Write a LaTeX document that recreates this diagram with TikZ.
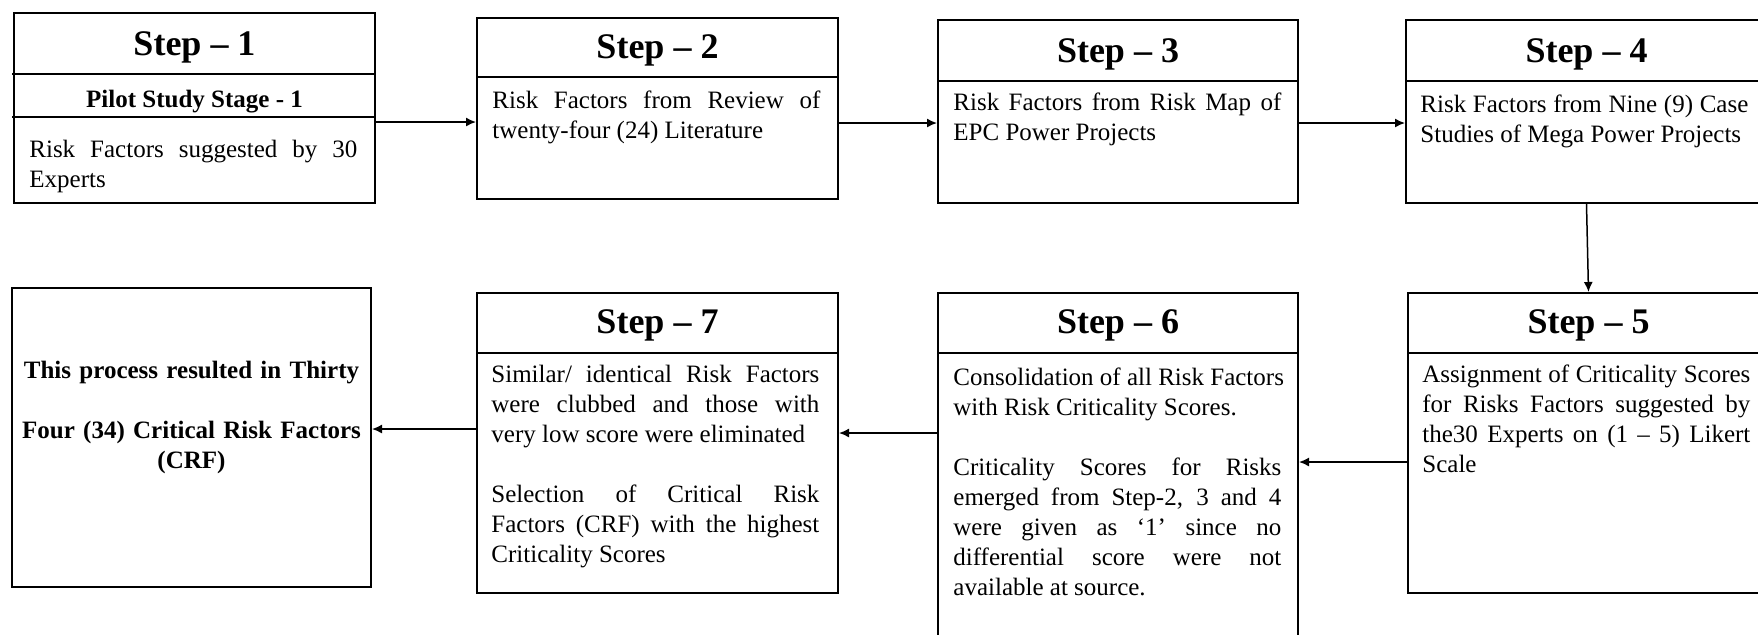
\documentclass[tikz,border=0pt]{standalone}
\usepackage{fontspec}
\setmainfont{Liberation Serif}
\usetikzlibrary{arrows.meta,fit}
\newlength\bw \setlength\bw{164pt}
\newcommand\jl[1]{\makebox[\bw][s]{\spaceskip=0.25em plus 1fil\relax #1}\\}
\begin{document}
\begin{tikzpicture}[x=0.5pt,y=-0.5pt,
  box/.style={draw, line width=1pt, inner sep=0pt},
  ttl/.style={font=\fontsize{18}{20}\selectfont\bfseries, anchor=base, inner sep=0pt},
  sub/.style={font=\fontsize{12.5}{15}\selectfont\bfseries, anchor=base, inner sep=0pt},
  body/.style={font=\fontsize{12.5}{15}\selectfont, anchor=north west, inner sep=0pt, text width=164pt, align=justify},
  arr/.style={line width=0.75pt, -{Latex[length=5pt,width=4.5pt]}},
  div/.style={line width=1pt}]
\useasboundingbox (0,0) rectangle (1758,634);
\clip (0,0) rectangle (1758,634);
\fill[white] (0,0) rectangle (1758,634);

% boxes
\node[box, fit={(14,13) (375,203)}] (s1) {};
\node[box, fit={(477,18) (838,199)}] (s2) {};
\node[box, fit={(938,20) (1298,203)}] (s3) {};
\node[box, fit={(1406,20) (1767,203)}] (s4) {};
\node[box, fit={(1408,293) (1769,593)}] (s5) {};
\node[box, fit={(938,293) (1298,660)}] (s6) {};
\node[box, fit={(477,293) (838,593)}] (s7) {};
\node[box, fit={(12,288) (371,587)}] (res) {};

% dividers
\draw[div] (12,74) -- (375,74);
\draw[div] (12,117) -- (375,117);
\draw[div] (477,77) -- (838,77);
\draw[div] (938,81) -- (1298,81);
\draw[div] (1406,81) -- (1767,81);
\draw[div] (1408,353) -- (1769,353);
\draw[div] (938,353) -- (1298,353);
\draw[div] (477,353) -- (838,353);

% titles
\node[ttl] (t1) at (194.5,55) {Step – 1};
\node[ttl] (t2) at (657.5,58) {Step – 2};
\node[ttl] (t3) at (1118,62) {Step – 3};
\node[ttl] (t4) at (1586.5,62) {Step – 4};
\node[ttl] (t5) at (1588.5,333) {Step – 5};
\node[ttl] (t6) at (1118,333) {Step – 6};
\node[ttl] (t7) at (657.5,333) {Step – 7};
\node[sub] (p1) at (194.5,107) {Pilot Study Stage - 1};

% bodies
\node[body] (b1) at (29,136) {\noindent\strut\jl{Risk Factors suggested by 30}Experts};
\node[body] (b2) at (492,87) {\noindent\strut\jl{Risk Factors from Review of}twenty-four (24) Literature};
\node[body] (b3) at (953,89) {\noindent\strut\jl{Risk Factors from Risk Map of}EPC Power Projects};
\node[body] (b4) at (1420,91) {\noindent\strut\jl{Risk Factors from Nine (9) Case}Studies of Mega Power Projects};
\node[body] (b5) at (1422,361) {\noindent\strut\jl{Assignment of Criticality Scores}\jl{for Risks Factors suggested by}\jl{the30 Experts on (1 – 5) Likert}Scale};
\node[body] (b6) at (953,364) {\noindent\strut\jl{Consolidation of all Risk Factors}with Risk Criticality Scores.\\[15pt]\jl{Criticality Scores for Risks}\jl{emerged from Step-2, 3 and 4}\jl{were given as ‘1’ since no}\jl{differential score were not}available at source.};
\node[body] (b7) at (491,361) {\noindent\strut\jl{Similar/ identical Risk Factors}\jl{were clubbed and those with}very low score were eliminated\\[15pt]\jl{Selection of Critical Risk}\jl{Factors (CRF) with the highest}Criticality Scores};
\node[font=\fontsize{12.5}{15}\selectfont\bfseries, anchor=north, inner sep=0pt, text width=175pt, align=center] (rt) at (191.5,357)
  {\strut This process resulted in Thirty\\[15pt]Four (34) Critical Risk Factors\\(CRF)};

% arrow rows
\coordinate (r1) at (0,122);
\coordinate (r2) at (0,123);
\coordinate (r5) at (0,462);
\coordinate (r6) at (0,433);
\coordinate (r7) at (0,429);

\draw[arr] (s1.east |- r1) -- (s2.west |- r1);
\draw[arr] (s2.east |- r2) -- (s3.west |- r2);
\draw[arr] (s3.east |- r2) -- (s4.west |- r2);
\draw[arr] (s4.south) -- (s5.north);
\draw[arr] (s5.west |- r5) -- (s6.east |- r5);
\draw[arr] (s6.west |- r6) -- (s7.east |- r6);
\draw[arr] (s7.west |- r7) -- (res.east |- r7);
\end{tikzpicture}
\end{document}
